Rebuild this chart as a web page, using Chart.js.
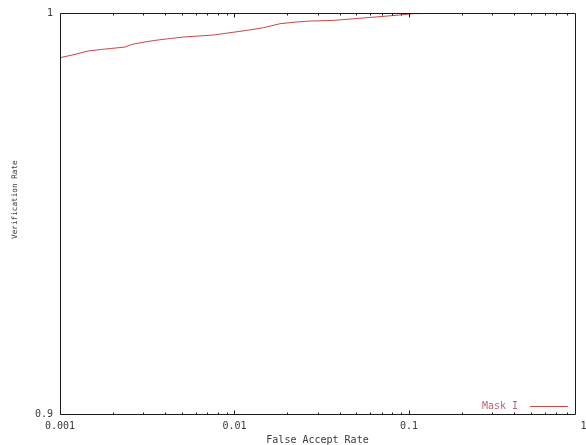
<!DOCTYPE html>
<html><head><meta charset="utf-8">
<script src="https://cdn.jsdelivr.net/npm/chart.js@4/dist/chart.umd.min.js"></script>
<style>html,body{margin:0;padding:0;background:#fff;}canvas{display:block;}</style>
</head><body>
<canvas id="c" width="586" height="445"></canvas>
<script>
const seriesName = 'Mask I';
const falseAcceptRate = [0.001, 0.00122, 0.00145, 0.00173, 0.00198, 0.00236, 0.00258, 0.00307, 0.0035, 0.00436, 0.00509, 0.00756, 0.01175, 0.01462, 0.01822, 0.0227, 0.0271, 0.0369, 0.0572, 0.0888, 0.1054, 0.172, 1];
const verificationRate = [0.98885, 0.98968, 0.99052, 0.99092, 0.99117, 0.99152, 0.99217, 0.99277, 0.99317, 0.99367, 0.99401, 0.99451, 0.99566, 0.99633, 0.99733, 0.99776, 0.998, 0.99815, 0.99883, 0.9995, 0.99983, 1.0, 1.0];
const xTickValues = [0.001, 0.01, 0.1, 1];
const xTickLabels = ['0.001', '0.01', '0.1', '1'];
const yTickValues = [0.9, 1];
const yTickLabels = ['0.9', '1'];
const xTitle = 'False Accept Rate';
const yTitle = 'Verification Rate';

const LINE_COLOR = '#cc4646';
const TEXT_COLOR = '#3a3a3a';
const MONO = "'DejaVu Sans Mono', 'Liberation Mono', monospace";
Chart.defaults.font.family = MONO;

const framePlugin = {
  id: 'frame',
  afterDatasetsDraw(chart) {
    const {ctx, chartArea: a, scales: {x}} = chart;
    ctx.save();
    ctx.strokeStyle = '#1a1a1a';
    ctx.lineWidth = 1;
    const L = Math.round(a.left) + 0.5, T = Math.round(a.top) + 0.5;
    const R = Math.round(a.right) + 0.5, B = Math.round(a.bottom) + 0.5;
    ctx.beginPath();
    ctx.moveTo(L, T); ctx.lineTo(R, T); ctx.lineTo(R, B); ctx.lineTo(L, B); ctx.closePath();
    ctx.stroke();
    ctx.beginPath();
    for (let i = 0; i < xTickValues.length; i++) {
      for (let k = 1; k <= 9; k++) {
        const v = xTickValues[i] * k;
        if (v > x.max + 1e-12) continue;
        const px = Math.round(x.getPixelForValue(v)) + 0.5;
        const len = k === 1 ? 4 : 2;
        ctx.moveTo(px, B); ctx.lineTo(px, B - len);
        ctx.moveTo(px, T); ctx.lineTo(px, T + len);
      }
    }
    ctx.stroke();
    ctx.restore();
  },
  afterDraw(chart) {
    const {ctx} = chart;
    ctx.save();
    ctx.font = '10px ' + MONO;
    ctx.fillStyle = '#c8606e';
    ctx.textAlign = 'right';
    ctx.textBaseline = 'middle';
    ctx.fillText(chart.data.datasets[0].label, 518, 406.5);
    ctx.strokeStyle = LINE_COLOR;
    ctx.lineWidth = 1;
    ctx.beginPath();
    ctx.moveTo(530, 406.5); ctx.lineTo(568, 406.5);
    ctx.stroke();
    ctx.restore();
  }
};

new Chart(document.getElementById('c'), {
  type: 'line',
  data: {
    datasets: [{
      label: seriesName,
      data: falseAcceptRate.map((v, i) => ({x: v, y: verificationRate[i]})),
      borderColor: LINE_COLOR,
      borderWidth: 1,
      pointRadius: 0,
      tension: 0,
      fill: false
    }]
  },
  options: {
    responsive: false,
    animation: false,
    devicePixelRatio: 1,
    layout: {padding: {top: 13, right: 11, left: 0, bottom: 0}},
    plugins: {legend: {display: false}, tooltip: {enabled: false}},
    scales: {
      x: {
        type: 'logarithmic',
        min: 0.001,
        max: 0.894,
        afterBuildTicks: s => { s.ticks = xTickValues.map(v => ({value: v})); },
        afterFit: s => { s.height = 31; s.paddingLeft = 0; s.paddingRight = 0; },
        grid: {display: false, drawTicks: false},
        border: {display: false},
        ticks: {padding: 6, autoSkip: false, maxRotation: 0, minRotation: 0, color: TEXT_COLOR,
                font: {size: 10}, callback: (v, i) => xTickLabels[i]},
        title: {display: true, text: xTitle, color: TEXT_COLOR, font: {size: 10, lineHeight: 1}, padding: 0}
      },
      y: {
        min: 0.9,
        max: 1,
        afterBuildTicks: s => { s.ticks = yTickValues.map(v => ({value: v})); },
        afterFit: s => { s.width = 60; s.paddingTop = 0; s.paddingBottom = 0; },
        grid: {display: false, drawTicks: false},
        border: {display: false},
        ticks: {padding: 7, color: TEXT_COLOR, font: {size: 10}, callback: (v, i) => yTickLabels[i]},
        title: {display: true, text: '      ' + yTitle, color: TEXT_COLOR, font: {size: 7.7, lineHeight: 1}, padding: {top: 11, bottom: 0}}
      }
    }
  },
  plugins: [framePlugin]
});
</script>
</body></html>
